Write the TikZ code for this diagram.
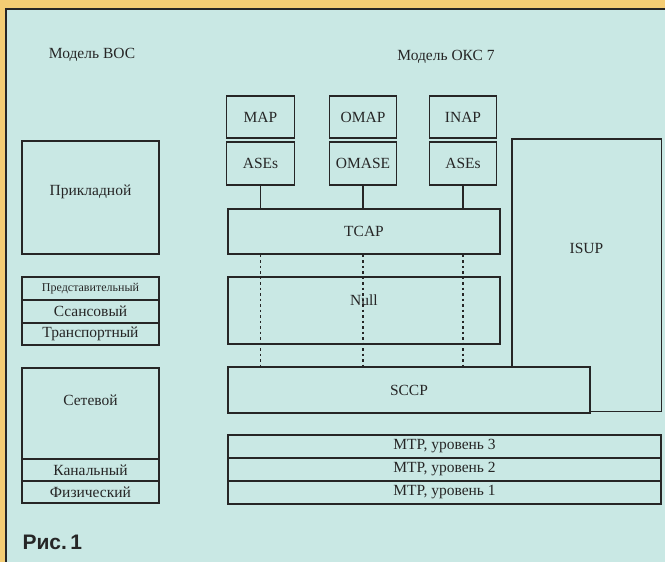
\documentclass[tikz,border=0pt]{standalone}
\usepackage{fontspec}
\setmainfont{Liberation Serif}
\newfontfamily\figcapfont{Liberation Sans}
\usetikzlibrary{positioning}
\definecolor{panelbg}{HTML}{C9E8E4}
\definecolor{outerA}{HTML}{F4CD74}
\definecolor{outerB}{HTML}{FBE4AE}
\definecolor{linec}{HTML}{262626}
\tikzset{
  layer/.style={draw=linec, line width=1.1pt, inner sep=0pt, text=linec, font=\fontsize{15.5}{18}\selectfont},
  tag/.style={text=linec, font=\fontsize{15.5}{18}\selectfont},
  osi/.style={layer, minimum width=137pt},
  app/.style={layer, minimum width=67.5pt},
  mtp/.style={layer, minimum width=433pt, minimum height=23pt},
  link/.style={draw=linec, line width=1.3pt},
  probe/.style={draw=linec, line width=1.3pt, dash pattern=on 2.5pt off 3pt}
}

\begin{document}
\begin{tikzpicture}[x=1pt,y=-1pt]
\useasboundingbox (0,0) rectangle (665,562);
\shade[left color=outerA, middle color=outerB, right color=outerA] (0,0) rectangle (665,562);
\fill[panelbg] (6,9) rectangle (665,562);
\draw[linec, line width=1.5pt] (6,562) -- (6,9) -- (665,9);

\node[tag, anchor=base] (osititle) at (92,58) {Модель ВОС};
\node[tag, anchor=base] (ss7title) at (446,60) {Модель ОКС 7};

\node[osi, minimum height=113pt] (appl) at (90.5,197.5) {};
\node[tag] at (90.5,192) {Прикладной};
\node[osi, minimum height=23pt, font=\fontsize{12}{14}\selectfont] (pres) at (90.5,288.5) {Представительный};
\node[osi, minimum height=23pt] (sess) at (90.5,311.5) {Ссансовый};
\node[osi, minimum height=22pt] (trans) at (90.5,334) {Транспортный};
\node[osi, minimum height=91pt] (netw) at (90.5,413.5) {};
\node[tag] at (90.5,400) {Сетевой};
\node[osi, minimum height=22pt] (link) at (90.5,470) {Канальный};
\node[osi, minimum height=22pt] (phys) at (90.5,492) {Физический};

\foreach \name/\xx/\top/\bot in {1/260.5/MAP/ASEs, 2/363/OMAP/OMASE, 3/463/INAP/ASEs} {
  \node[app, minimum height=42pt] (ap\name) at (\xx,117) {\top};
  \node[app, minimum height=43pt] (ase\name) at (\xx,163.5) {\bot};
}

\node[layer, minimum width=272pt, minimum height=45pt] (tcap) at (364,231.5) {TCAP};
\node[layer, minimum width=272pt, minimum height=67pt] (null) at (364,310.5) {};
\node[tag] at (364,300) {Null};
\node[layer, minimum width=362pt, minimum height=46pt] (sccp) at (409,390) {SCCP};
\node[minimum width=149pt, minimum height=272pt, inner sep=0pt] (isup) at (586.5,275) {};
\draw[linec, line width=1.4pt] (sccp.north -| isup.west) -- (isup.north west) -- (isup.north east)
  -- (isup.south east) -- (isup.south -| sccp.east);
\node[tag] at (586.5,248) {ISUP};

\foreach \lvl/\yy in {3/446.5, 2/469.5, 1/492.5}
  \node[mtp] (mtp\lvl) at (444.5,\yy) {MTP, уровень \lvl};

\foreach \ase in {ase1, ase2, ase3} {
  \draw[link] (\ase.south) -- (\ase.south |- tcap.north);
  \draw[probe] (\ase.south |- tcap.south) -- (\ase.south |- sccp.north);
}

\node[anchor=base west, text=linec, font=\figcapfont\bfseries\fontsize{21}{24}\selectfont] (fig) at (19,549) {Рис.\,1};
\end{tikzpicture}
\end{document}
